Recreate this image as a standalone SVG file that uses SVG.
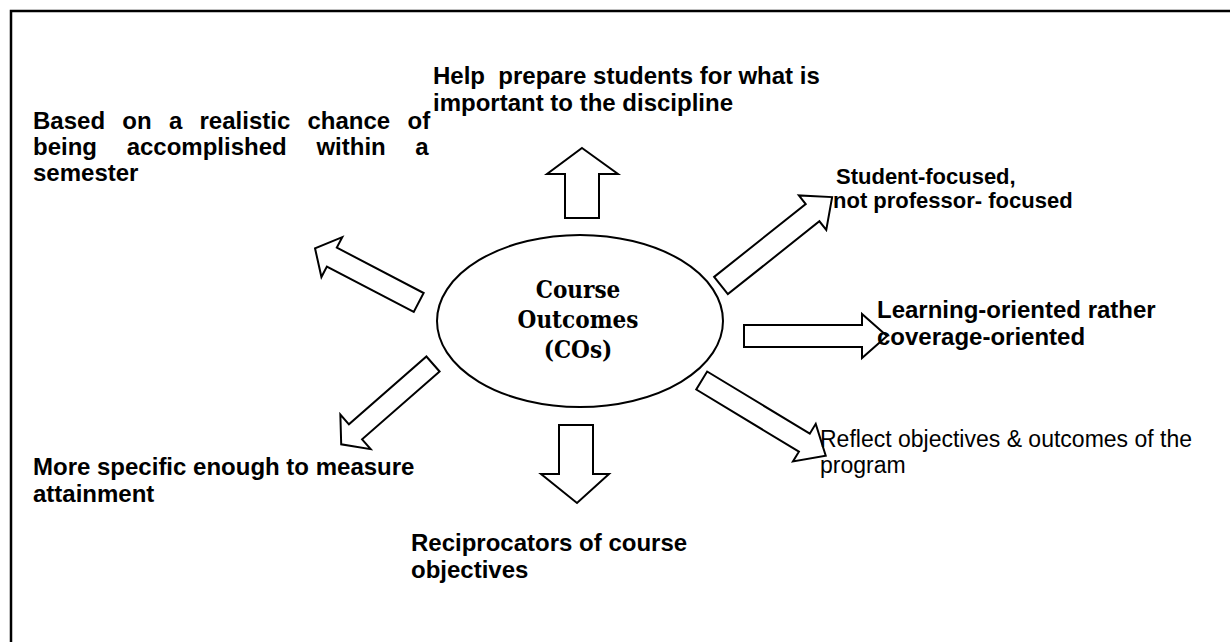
<svg xmlns="http://www.w3.org/2000/svg" width="1230" height="642" viewBox="0 0 1230 642">
  <style>
    .frame { fill: none; stroke: #000; stroke-width: 2.5; }
    .shape { fill: #fff; stroke: #000; stroke-width: 2; stroke-linejoin: miter; }
    .lbl { font-family: "Liberation Sans", Arial, sans-serif; font-size: 24px; font-weight: bold; fill: #000; }
    .small { font-size: 22px; }
    .plain { font-family: "Liberation Sans", Arial, sans-serif; font-size: 23px; fill: #000; }
    .core { font-family: "DejaVu Serif Condensed", "DejaVu Serif", serif; font-stretch: condensed; font-size: 24px; font-weight: bold; fill: #000; text-anchor: middle; }
  </style>

  <!-- page border: only the top and left edges fall inside the view -->
  <rect class="frame" x="11" y="11" width="1240" height="660"/>

  <g id="connectors">
    <!-- straight block arrows -->
    <polygon class="shape" points="582,148 618,174 599,174 599,218 565,218 565,174 547,174"/>
    <polygon class="shape" points="559,425 593,425 593,474 609,474 577,503 541,474 559,474"/>
    <polygon class="shape" points="744,325 862,325 862,314 887,336 862,358 862,347 744,347"/>
    <!-- slanted block arrows, drawn along +x from the tail and rotated into place -->
    <polygon class="shape" transform="translate(721,285.5) rotate(-38.5)" points="0,-11 117,-11 117,-22 142,0 117,22 117,11 0,11"/>
    <polygon class="shape" transform="translate(701.7,380.5) rotate(31.2)" points="0,-10.5 120,-10.5 120,-22 145,0 120,22 120,10.5 0,10.5"/>
    <polygon class="shape" transform="translate(418.7,302.5) rotate(-152.4)" points="0,-10.7 98,-10.7 98,-22.5 117,0 98,22.5 98,10.7 0,10.7"/>
    <polygon class="shape" transform="translate(433,364) rotate(138.8)" points="0,-10 103,-10 103,-23 122,0 103,23 103,10 0,10"/>
  </g>

  <g id="center">
    <ellipse class="shape" cx="580" cy="321" rx="143" ry="86"/>
    <text class="core" x="578" y="298">Course</text>
    <text class="core" x="578" y="328">Outcomes</text>
    <text class="core" x="578" y="358">(COs)</text>
  </g>

  <g id="prepare">
    <text class="lbl" x="433" y="84" xml:space="preserve">Help  prepare students for what is</text>
    <text class="lbl" x="433" y="111">important to the discipline</text>
  </g>

  <g id="realistic">
    <text class="lbl" x="33" y="129" word-spacing="10.6">Based on a realistic chance of</text>
    <text class="lbl" x="33" y="155" word-spacing="23">being accomplished within a</text>
    <text class="lbl" x="33" y="181">semester</text>
  </g>

  <g id="student">
    <text class="lbl small" x="836" y="184">Student-focused,</text>
    <text class="lbl small" x="833" y="208">not professor- focused</text>
  </g>

  <g id="learning">
    <text class="lbl" x="877" y="318">Learning-oriented rather</text>
    <text class="lbl" x="877" y="345">coverage-oriented</text>
  </g>

  <g id="reflect">
    <text class="plain" x="820" y="447">Reflect objectives &amp; outcomes of the</text>
    <text class="plain" x="820" y="473">program</text>
  </g>

  <g id="specific">
    <text class="lbl" x="33" y="475">More specific enough to measure</text>
    <text class="lbl" x="33" y="502">attainment</text>
  </g>

  <g id="reciprocators">
    <text class="lbl" x="411" y="551">Reciprocators of course</text>
    <text class="lbl" x="411" y="578">objectives</text>
  </g>
</svg>
